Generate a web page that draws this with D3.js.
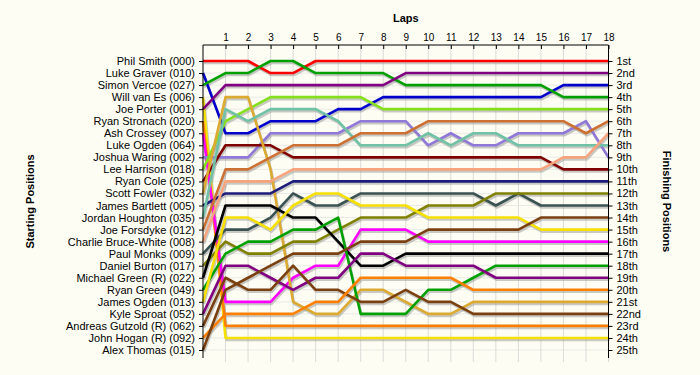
<!DOCTYPE html>
<html>
<head>
<meta charset="utf-8">
<script src="https://cdn.jsdelivr.net/npm/d3@7"></script>
<style>
  html, body { margin: 0; padding: 0; background: #fdfdf4; }
  svg { display: block; font-family: 'Liberation Sans', Arial, sans-serif; }
</style>
</head>
<body>
<div id="container"></div>
<script>
// starting grid, top to bottom
const drivers = [
	'Phil Smith (000)', 'Luke Graver (010)', 'Simon Vercoe (027)', 'Will van Es (006)',
	'Joe Porter (001)', 'Ryan Stronach (020)', 'Ash Crossey (007)', 'Luke Ogden (064)',
	'Joshua Waring (002)', 'Lee Harrison (018)', 'Ryan Cole (025)', 'Scott Fowler (032)',
	'James Bartlett (005)', 'Jordan Houghton (035)', 'Joe Forsdyke (012)', 'Charlie Bruce-White (008)',
	'Paul Monks (009)', 'Daniel Burton (017)', 'Michael Green (R) (022)', 'Ryan Green (049)',
	'James Ogden (013)', 'Kyle Sproat (052)', 'Andreas Gutzold (R) (062)', 'John Hogan (R) (092)',
	'Alex Thomas (015)'
];

const finishLabels = [
	'1st', '2nd', '3rd', '4th', '5th', '6th', '7th', '8th', '9th', '10th', '11th', '12th', '13th',
	'14th', '15th', '16th', '17th', '18th', '19th', '20th', '21st', '22nd', '23rd', '24th', '25th'
];

const lapTicks = [1, 2, 3, 4, 5, 6, 7, 8, 9, 10, 11, 12, 13, 14, 15, 16, 17, 18];

// position at lap 0..18, one row per driver (null = no laps recorded)
const lapPositions = [
	[1, 1, 1, 2, 2, 1, 1, 1, 1, 1, 1, 1, 1, 1, 1, 1, 1, 1, 1],
	[2, 7, 7, 6, 6, 6, 5, 5, 4, 4, 4, 4, 4, 4, 4, 4, 3, 3, 3],
	[3, 2, 2, 1, 1, 2, 2, 2, 2, 3, 3, 3, 3, 3, 3, 3, 4, 4, 4],
	[4, 24, 24, 24, 24, 24, 24, 24, 24, 24, 24, 24, 24, 24, 24, 24, 24, 24, 24],
	[5, 3, 3, 3, 3, 3, 3, 3, 3, 2, 2, 2, 2, 2, 2, 2, 2, 2, 2],
	[6, 23, 23, 23, 23, 23, 23, 23, 23, 23, 23, 23, 23, 23, 23, 23, 23, 23, 23],
	[7, 21, 21, 21, 19, 18, 18, 15, 15, 15, 16, 16, 16, 16, 16, 16, 16, 16, 16],
	null,
	[9, 9, 9, 7, 7, 7, 7, 6, 6, 6, 8, 7, 8, 8, 7, 7, 7, 6, 9],
	[10, 6, 5, 4, 4, 4, 4, 4, 5, 5, 5, 5, 5, 5, 5, 5, 5, 5, 5],
	[11, 8, 8, 8, 9, 9, 9, 9, 9, 9, 9, 9, 9, 9, 9, 9, 10, 10, 10],
	[12, 4, 4, 10, 21, 22, 22, 20, 20, 21, 22, 22, 21, 21, 21, 21, 21, 21, 21],
	[13, 12, 12, 12, 11, 11, 11, 11, 11, 11, 11, 11, 11, 11, 11, 11, 11, 11, 11],
	[14, 5, 6, 5, 5, 5, 6, 8, 8, 8, 7, 8, 7, 7, 8, 8, 8, 8, 8],
	[15, 10, 10, 9, 8, 8, 8, 7, 7, 7, 6, 6, 6, 6, 6, 6, 6, 7, 6],
	[16, 11, 11, 11, 10, 10, 10, 10, 10, 10, 10, 10, 10, 10, 10, 10, 9, 9, 7],
	[17, 15, 15, 14, 12, 13, 13, 12, 12, 12, 12, 12, 12, 13, 12, 13, 13, 13, 13],
	[18, 16, 17, 17, 16, 16, 15, 14, 14, 14, 13, 13, 13, 12, 12, 12, 12, 12, 12],
	[19, 13, 13, 13, 14, 14, 16, 18, 18, 17, 17, 17, 17, 17, 17, 17, 17, 17, 17],
	[20, 17, 16, 16, 15, 15, 14, 22, 22, 22, 20, 20, 19, 18, 18, 18, 18, 18, 18],
	[21, 14, 14, 15, 13, 12, 12, 13, 13, 13, 14, 14, 14, 14, 14, 15, 15, 15, 15],
	[22, 18, 18, 19, 20, 19, 19, 17, 17, 18, 18, 18, 18, 19, 19, 19, 19, 19, 19],
	[23, 19, 20, 20, 18, 20, 20, 21, 21, 20, 21, 21, 22, 22, 22, 22, 22, 22, 22],
	[24, 22, 22, 22, 22, 21, 21, 19, 19, 19, 19, 19, 20, 20, 20, 20, 20, 20, 20],
	[25, 20, 19, 18, 17, 17, 17, 16, 16, 16, 15, 15, 15, 15, 15, 14, 14, 14, 14]
];

const lineColors = [
	'#ff0000', '#0000cc', '#00a000', '#f5e000', '#800080', '#ff8000', '#ff00ff', '#999999',
	'#9078d8', '#84e01c', '#800000', '#dcaa30', '#1c1c7c', '#70c2a6', '#cc7033', '#f7a47e',
	'#3a5252', '#808000', '#000000', '#00a000', '#f5e000', '#800080', '#7a4010', '#ff8000',
	'#7a4010'
];

const width = 700, height = 375;
const plotTop = 45, plotBottom = 358;

const x = d3.scaleLinear().domain([0, 18]).range([203, 608.5]);
const y = d3.scaleLinear().domain([1, 25]).range([61, 350]);

const svg = d3.select('#container').append('svg')
	.attr('width', width)
	.attr('height', height);

svg.append('rect').attr('width', width).attr('height', height).attr('fill', '#fdfdf4');

// grid
svg.append('g')
	.selectAll('line')
	.data(d3.range(1, 26))
	.join('line')
	.attr('x1', x(0)).attr('x2', x(18))
	.attr('y1', d => y(d)).attr('y2', d => y(d))
	.attr('stroke', '#ebebe6');

svg.append('g')
	.selectAll('line')
	.data(lapTicks)
	.join('line')
	.attr('x1', d => x(d)).attr('x2', d => x(d))
	.attr('y1', plotTop).attr('y2', plotBottom + 4)
	.attr('stroke', '#dcdcd8');

// lines
const series = lapPositions
	.map((p, i) => ({ name: drivers[i], color: lineColors[i], pos: p }))
	.filter(d => d.pos);

const line = d3.line()
	.x((d, i) => x(i))
	.y(d => y(d));

svg.append('g')
	.attr('transform', 'translate(1,2)')
	.selectAll('path')
	.data(series)
	.join('path')
	.attr('d', d => line(d.pos))
	.attr('fill', 'none')
	.attr('stroke', '#8a8a8a')
	.attr('stroke-opacity', 0.45)
	.attr('stroke-width', 2.6)
	.attr('stroke-linejoin', 'round');

svg.append('g')
	.selectAll('path')
	.data(series)
	.join('path')
	.attr('d', d => line(d.pos))
	.attr('fill', 'none')
	.attr('stroke', d => d.color)
	.attr('stroke-width', 2.6)
	.attr('stroke-linejoin', 'round');

// axes
const topAxis = svg.append('g')
	.attr('transform', `translate(0,${plotTop})`)
	.call(d3.axisTop(x).tickValues(lapTicks).tickSizeInner(-4).tickSizeOuter(0).tickPadding(4));

const leftAxis = svg.append('g')
	.attr('transform', `translate(${x(0)},0)`)
	.call(d3.axisLeft(y).tickValues(d3.range(1, 26)).tickFormat(d => drivers[d - 1]).tickSize(4).tickPadding(4));

const rightAxis = svg.append('g')
	.attr('transform', `translate(${x(18)},0)`)
	.call(d3.axisRight(y).tickValues(d3.range(1, 26)).tickFormat(d => finishLabels[d - 1]).tickSize(4).tickPadding(4));

[topAxis, leftAxis, rightAxis].forEach(a => {
	a.select('.domain').remove();
	a.selectAll('line').attr('stroke', '#000');
	a.selectAll('text').attr('fill', '#000').style('font-size', '11px');
});
topAxis.selectAll('text').style('font-size', '10px');

// frame lines
svg.append('line').attr('x1', x(0)).attr('x2', x(18)).attr('y1', plotTop).attr('y2', plotTop).attr('stroke', '#000');
svg.append('line').attr('x1', x(0)).attr('x2', x(0)).attr('y1', plotTop).attr('y2', plotBottom).attr('stroke', '#000');
svg.append('line').attr('x1', x(18)).attr('x2', x(18)).attr('y1', plotTop).attr('y2', plotBottom).attr('stroke', '#000');

// titles
svg.append('text')
	.attr('x', (x(0) + x(18)) / 2).attr('y', 22)
	.attr('text-anchor', 'middle')
	.style('font-size', '11px').style('font-weight', 'bold')
	.text('Laps');

svg.append('text')
	.attr('transform', `translate(34,${(plotTop + plotBottom) / 2}) rotate(-90)`)
	.attr('text-anchor', 'middle')
	.style('font-size', '11px').style('font-weight', 'bold')
	.text('Starting Positions');

svg.append('text')
	.attr('transform', `translate(663,${(plotTop + plotBottom) / 2}) rotate(90)`)
	.attr('text-anchor', 'middle')
	.style('font-size', '11px').style('font-weight', 'bold')
	.text('Finishing Positions');
</script>
</body>
</html>
